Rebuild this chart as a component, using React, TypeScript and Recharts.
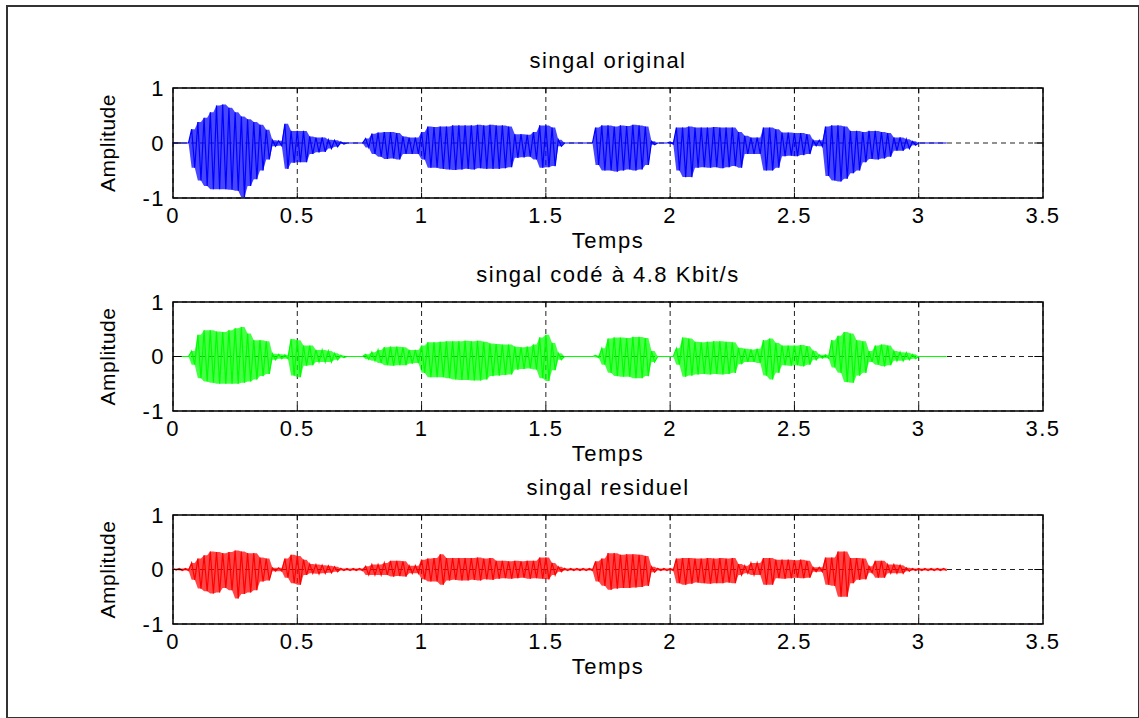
import React from 'react';
import { ComposedChart, Line, Area, XAxis, YAxis, CartesianGrid, ReferenceArea, ReferenceLine, Label } from 'recharts';

// ---------- data ----------
const STEP = 0.025; // seconds per envelope bin
const X_TICKS = [0, 0.5, 1, 1.5, 2, 2.5, 3, 3.5];
const Y_TICKS = [-1, 0, 1];
const TITLES = ['singal original', 'singal codé à 4.8 Kbit/s', 'singal residuel'];
const X_LABEL = 'Temps';
const Y_LABEL = 'Amplitude';

// envelope (max / min) of each signal, one value per 0.025 s bin from t = 0 to t = 3.1
const BLUE_MAX = [
  0, 0, 0, 0.25, 0.38, 0.46, 0.56, 0.68, 0.7, 0.64, 0.56, 0.48, 0.43, 0.38, 0.33, 0.24, 0.05, 0.04, 0.35, 0.22, 0.22, 0.22, 0.12, 0.1, 0.1,
  0.06, 0.05, 0.02, 0, 0, 0, 0.08, 0.17, 0.19, 0.2, 0.2, 0.18, 0.12, 0.1, 0.1, 0.2, 0.3, 0.29, 0.3, 0.3, 0.32, 0.32, 0.32, 0.32, 0.33,
  0.32, 0.33, 0.32, 0.32, 0.3, 0.16, 0.16, 0.15, 0.2, 0.32, 0.32, 0.28, 0.06, 0, 0, 0, 0, 0, 0.28, 0.32, 0.32, 0.3, 0.32, 0.31, 0.33,
  0.32, 0.3, 0.03, 0, 0, 0.02, 0.28, 0.28, 0.3, 0.28, 0.28, 0.28, 0.29, 0.28, 0.28, 0.28, 0.2, 0.13, 0.1, 0.1, 0.28, 0.28, 0.25, 0.19, 0.19,
  0.18, 0.18, 0.16, 0.05, 0.05, 0.3, 0.32, 0.32, 0.3, 0.22, 0.22, 0.2, 0.22, 0.22, 0.2, 0.18, 0.1, 0.1, 0.07, 0.03, 0, 0, 0, 0, 0,
];
const BLUE_MIN = [
  0, 0, 0, -0.45, -0.68, -0.78, -0.84, -0.84, -0.84, -0.85, -0.87, -0.99, -0.78, -0.66, -0.5, -0.3, -0.06, -0.05, -0.47, -0.36, -0.35, -0.35, -0.2, -0.17, -0.16,
  -0.1, -0.07, -0.02, 0, 0, 0, -0.08, -0.2, -0.25, -0.29, -0.28, -0.3, -0.2, -0.2, -0.2, -0.3, -0.45, -0.45, -0.47, -0.48, -0.49, -0.48, -0.47, -0.48, -0.46,
  -0.47, -0.47, -0.47, -0.46, -0.44, -0.27, -0.26, -0.25, -0.3, -0.45, -0.44, -0.42, -0.06, 0, 0, 0, 0, 0, -0.4, -0.5, -0.5, -0.52, -0.5, -0.48, -0.5,
  -0.48, -0.4, -0.03, 0, 0, -0.02, -0.5, -0.62, -0.62, -0.45, -0.44, -0.45, -0.44, -0.46, -0.44, -0.42, -0.45, -0.2, -0.2, -0.2, -0.5, -0.5, -0.45, -0.24, -0.23,
  -0.24, -0.22, -0.2, -0.05, -0.06, -0.6, -0.68, -0.7, -0.65, -0.55, -0.5, -0.35, -0.29, -0.3, -0.28, -0.25, -0.14, -0.14, -0.1, -0.04, 0, 0, 0, 0, 0,
];
const GREEN_MAX = [
  0, 0, 0, 0.1, 0.4, 0.48, 0.48, 0.46, 0.45, 0.48, 0.52, 0.54, 0.42, 0.3, 0.3, 0.28, 0.05, 0.04, 0.03, 0.32, 0.3, 0.2, 0.2, 0.12, 0.12,
  0.1, 0.06, 0.02, 0, 0, 0, 0.04, 0.08, 0.12, 0.17, 0.18, 0.18, 0.17, 0.12, 0.12, 0.2, 0.26, 0.26, 0.27, 0.28, 0.28, 0.28, 0.29, 0.28, 0.29,
  0.27, 0.24, 0.23, 0.22, 0.22, 0.18, 0.17, 0.18, 0.22, 0.35, 0.4, 0.25, 0.06, 0, 0, 0, 0, 0, 0.02, 0.15, 0.33, 0.35, 0.35, 0.34, 0.36,
  0.36, 0.34, 0.1, 0, 0, 0, 0.15, 0.35, 0.33, 0.27, 0.26, 0.27, 0.28, 0.28, 0.27, 0.26, 0.16, 0.14, 0.13, 0.14, 0.3, 0.33, 0.25, 0.2, 0.2,
  0.2, 0.21, 0.19, 0.1, 0.03, 0.03, 0.3, 0.38, 0.45, 0.42, 0.3, 0.28, 0.1, 0.2, 0.22, 0.2, 0.1, 0.08, 0.07, 0.04, 0, 0, 0, 0, 0,
];
const GREEN_MIN = [
  0, 0, 0, -0.15, -0.4, -0.46, -0.48, -0.5, -0.5, -0.5, -0.5, -0.48, -0.46, -0.42, -0.36, -0.32, -0.06, -0.04, -0.04, -0.35, -0.38, -0.17, -0.16, -0.1, -0.1,
  -0.1, -0.06, -0.02, 0, 0, 0, -0.05, -0.08, -0.12, -0.16, -0.17, -0.16, -0.16, -0.13, -0.12, -0.3, -0.38, -0.38, -0.38, -0.4, -0.42, -0.43, -0.43, -0.44, -0.44,
  -0.42, -0.36, -0.35, -0.34, -0.33, -0.24, -0.23, -0.22, -0.24, -0.4, -0.45, -0.25, -0.06, 0, 0, 0, 0, 0, -0.02, -0.15, -0.3, -0.36, -0.37, -0.37, -0.4,
  -0.4, -0.36, -0.1, 0, 0, 0, -0.15, -0.37, -0.35, -0.33, -0.32, -0.33, -0.32, -0.33, -0.32, -0.3, -0.14, -0.1, -0.1, -0.12, -0.35, -0.42, -0.3, -0.16, -0.17,
  -0.16, -0.18, -0.15, -0.06, -0.03, -0.03, -0.2, -0.3, -0.47, -0.48, -0.35, -0.3, -0.1, -0.15, -0.18, -0.16, -0.08, -0.08, -0.06, -0.04, 0, 0, 0, 0, 0,
];
const RED_MAX = [
  0.02, 0.02, 0.02, 0.12, 0.2, 0.26, 0.33, 0.32, 0.3, 0.32, 0.35, 0.33, 0.3, 0.3, 0.22, 0.2, 0.03, 0.03, 0.2, 0.27, 0.25, 0.18, 0.1, 0.09, 0.08,
  0.07, 0.05, 0.02, 0.02, 0.02, 0.02, 0.06, 0.09, 0.09, 0.12, 0.16, 0.16, 0.15, 0.07, 0.07, 0.18, 0.2, 0.21, 0.28, 0.21, 0.21, 0.21, 0.21, 0.21, 0.22,
  0.2, 0.21, 0.16, 0.16, 0.15, 0.16, 0.15, 0.16, 0.16, 0.22, 0.22, 0.12, 0.05, 0.02, 0.02, 0.02, 0.02, 0.02, 0.15, 0.2, 0.3, 0.3, 0.27, 0.28, 0.28,
  0.27, 0.25, 0.05, 0.02, 0.02, 0.02, 0.2, 0.21, 0.21, 0.2, 0.2, 0.21, 0.2, 0.21, 0.2, 0.21, 0.1, 0.07, 0.12, 0.12, 0.21, 0.21, 0.18, 0.18, 0.18,
  0.17, 0.18, 0.16, 0.04, 0.04, 0.22, 0.22, 0.33, 0.33, 0.21, 0.21, 0.2, 0.06, 0.16, 0.16, 0.09, 0.09, 0.08, 0.03, 0.02, 0.02, 0.02, 0.02, 0.02, 0.02,
];
const RED_MIN = [
  -0.01, -0.02, -0.02, -0.19, -0.35, -0.4, -0.44, -0.42, -0.34, -0.38, -0.53, -0.45, -0.42, -0.38, -0.22, -0.2, -0.03, -0.03, -0.15, -0.25, -0.28, -0.1, -0.07, -0.08, -0.07,
  -0.06, -0.04, -0.02, -0.02, -0.02, -0.02, -0.1, -0.1, -0.1, -0.1, -0.13, -0.12, -0.13, -0.07, -0.07, -0.18, -0.22, -0.22, -0.28, -0.2, -0.19, -0.2, -0.2, -0.19, -0.2,
  -0.18, -0.19, -0.17, -0.16, -0.17, -0.16, -0.15, -0.17, -0.16, -0.17, -0.18, -0.1, -0.04, -0.02, -0.02, -0.02, -0.02, -0.02, -0.22, -0.3, -0.37, -0.35, -0.34, -0.34, -0.33,
  -0.32, -0.3, -0.05, -0.02, -0.02, -0.02, -0.25, -0.28, -0.26, -0.24, -0.25, -0.26, -0.25, -0.25, -0.24, -0.25, -0.1, -0.07, -0.1, -0.1, -0.28, -0.28, -0.16, -0.17, -0.16,
  -0.15, -0.16, -0.15, -0.04, -0.04, -0.28, -0.3, -0.5, -0.5, -0.25, -0.19, -0.18, -0.06, -0.15, -0.15, -0.07, -0.07, -0.07, -0.03, -0.02, -0.02, -0.02, -0.02, -0.02, -0.02,
];

// ---------- helpers ----------
type Pt = { t: number; v: number; band: [number, number] };
function buildSeries(maxs: number[], mins: number[]): Pt[] {
  const out: Pt[] = [];
  for (let i = 0; i < maxs.length; i++) {
    const band: [number, number] = [mins[i], maxs[i]];
    out.push({ t: +(i * STEP).toFixed(5), v: maxs[i], band });
    out.push({ t: +(i * STEP + STEP / 2).toFixed(5), v: mins[i], band });
  }
  return out;
}

const FONT = '"Liberation Sans", Arial, Helvetica, sans-serif';

const PLOT_LEFT = 173;
const PLOT_RIGHT = 1043;
const CHART_W = 1139;
const TOP_AXIS_H = 40;
const BOTTOM_AXIS_H = 70;
const Y_AXIS_W = 70;
const CHART_H = 260;

const PANELS = [
  { maxs: BLUE_MAX, mins: BLUE_MIN, color: '#0000ff', title: TITLES[0], plotTop: 88, plotH: 110 },
  { maxs: GREEN_MAX, mins: GREEN_MIN, color: '#00ff00', title: TITLES[1], plotTop: 302, plotH: 109 },
  { maxs: RED_MAX, mins: RED_MIN, color: '#ff0000', title: TITLES[2], plotTop: 515, plotH: 109 },
];

const textStyle = { fontFamily: FONT, fontSize: 22, fill: '#000', letterSpacing: 1.5 };
const yLabelStyle = { fontFamily: FONT, fontSize: 21, fill: '#000', letterSpacing: 0.5 };

function Panel({ maxs, mins, color, title, plotTop, plotH }: any) {
  const data = buildSeries(maxs, mins);
  const margin = {
    top: 0,
    left: PLOT_LEFT - Y_AXIS_W,
    right: CHART_W - PLOT_RIGHT,
    bottom: CHART_H - TOP_AXIS_H - plotH - BOTTOM_AXIS_H,
  };
  const innerX = X_TICKS.slice(1, -1);
  return (
    <div style={{ position: 'absolute', left: 0, top: plotTop - TOP_AXIS_H }}>
      <ComposedChart width={CHART_W} height={CHART_H} data={data} margin={margin}>
        <CartesianGrid stroke="#222" strokeDasharray="5 4" strokeWidth={1} verticalValues={X_TICKS} horizontalValues={Y_TICKS} />
        <XAxis
          dataKey="t"
          type="number"
          domain={[0, 3.5]}
          ticks={X_TICKS}
          interval={0}
          height={BOTTOM_AXIS_H}
          axisLine={false}
          tickLine={false}
          tickSize={0}
          tickMargin={9}
          tick={textStyle}
        >
          <Label
            content={(p: any) => {
              const vb = p.viewBox;
              return (
                <text x={vb.x + vb.width / 2} y={vb.y + 50} textAnchor="middle" style={textStyle as any}>
                  {X_LABEL}
                </text>
              );
            }}
          />
        </XAxis>
        <XAxis
          xAxisId="top"
          orientation="top"
          dataKey="t"
          type="number"
          domain={[0, 3.5]}
          height={TOP_AXIS_H}
          axisLine={false}
          tickLine={false}
          tick={false}
        >
          <Label
            content={(p: any) => {
              const vb = p.viewBox;
              return (
                <text x={vb.x + vb.width / 2} y={vb.y + vb.height - 20} textAnchor="middle" style={textStyle as any}>
                  {title}
                </text>
              );
            }}
          />
        </XAxis>
        <YAxis
          type="number"
          domain={[-1, 1]}
          ticks={Y_TICKS}
          interval={0}
          width={Y_AXIS_W}
          axisLine={false}
          tickLine={false}
          tickSize={0}
          tickMargin={8}
          tick={textStyle}
        >
          <Label
            content={(p: any) => {
              const vb = p.viewBox;
              const cx = vb.x + 12;
              const cy = vb.y + vb.height / 2;
              return (
                <text x={cx} y={cy} textAnchor="middle" transform={`rotate(-90 ${cx} ${cy})`} style={yLabelStyle as any}>
                  {Y_LABEL}
                </text>
              );
            }}
          />
        </YAxis>
        <Area
          type="linear"
          dataKey="band"
          stroke="none"
          fill={color}
          fillOpacity={0.72}
          isAnimationActive={false}
          dot={false}
          activeDot={false}
        />
        <Line type="linear" dataKey="v" stroke={color} strokeWidth={1.2} dot={false} isAnimationActive={false} />
        {innerX.map((x) => (
          <ReferenceLine key={'b' + x} segment={[{ x, y: -1 }, { x, y: -0.9 }]} stroke="#000" strokeWidth={1} />
        ))}
        {innerX.map((x) => (
          <ReferenceLine key={'t' + x} segment={[{ x, y: 1 }, { x, y: 0.9 }]} stroke="#000" strokeWidth={1} />
        ))}
        <ReferenceLine segment={[{ x: 0, y: 0 }, { x: 0.035, y: 0 }]} stroke="#000" strokeWidth={1} />
        <ReferenceLine segment={[{ x: 3.465, y: 0 }, { x: 3.5, y: 0 }]} stroke="#000" strokeWidth={1} />
        <ReferenceArea x1={0} x2={3.5} y1={-1} y2={1} fill="none" fillOpacity={0} stroke="#000" strokeWidth={1.5} />
      </ComposedChart>
    </div>
  );
}

export default function App() {
  return (
    <div style={{ position: 'absolute', left: 0, top: 0, width: 1139, height: 718, background: '#fff', overflow: 'hidden' }}>
      <div
        style={{
          position: 'absolute',
          left: 6,
          top: 5,
          right: 0,
          bottom: 0,
          borderLeft: '2px solid #333',
          borderTop: '2px solid #333',
          borderRight: '1px solid #333',
          borderBottom: '1px solid #333',
          boxSizing: 'border-box',
        }}
      />
      {PANELS.map((p, i) => (
        <Panel key={i} {...p} />
      ))}
    </div>
  );
}
